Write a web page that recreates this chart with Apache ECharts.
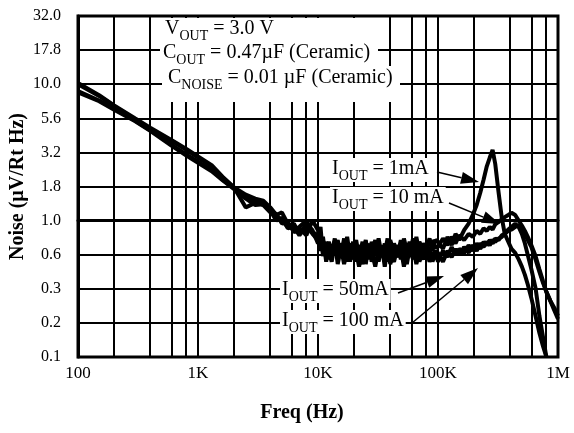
<!DOCTYPE html>
<html>
<head>
<meta charset="utf-8">
<script src="https://cdn.jsdelivr.net/npm/echarts@6/dist/echarts.min.js"></script>
<style>
  html, body { margin: 0; padding: 0; background: #fff; }
  #chart { width: 574px; height: 433px; }
</style>
</head>
<body>
<div id="chart"></div>
<script>
  // frequency points (Hz), shared by the four curves
  var freq = [100, 150, 200, 300, 400, 600, 800, 1000, 1300, 1600,
    2000, 2500, 3000, 3500, 4000, 4500, 5000, 5600, 6300, 7000,
    8000, 9000,
    10000, 10500, 11000, 11700, 12300, 13000, 13800, 14600, 15500, 16500,
    17500, 18500, 19600, 20800, 22000, 23500, 25000, 26500, 28000, 30000,
    32000, 34000, 36000, 38000, 40000, 43000, 46000, 49000, 52000, 55000,
    58000, 62000, 66000, 70000, 75000, 80000, 85000, 90000, 95000,
    100000, 110000, 120000, 130000, 140000, 150000, 165000, 180000, 195000, 210000,
    225000, 240000, 255000, 270000, 285000, 300000, 320000, 340000, 360000, 385000,
    410000, 440000, 470000, 500000, 530000, 560000, 600000, 650000, 700000, 750000,
    800000, 860000, 930000, 1000000];

  // noise (uV/rtHz) for each output current
  var iout1mA = [10.2, 8.3, 7.0, 5.6, 4.8, 3.9, 3.35, 2.95, 2.55, 2.1,
    1.75, 1.55, 1.45, 1.4, 1.25, 1.1, 1.15, 0.95, 0.85, 0.9,
    1.0, 0.82,
    0.78, 0.6, 0.72, 0.55, 0.7, 0.58, 0.74, 0.52, 0.68, 0.6,
    0.76, 0.54, 0.7, 0.5, 0.66, 0.58, 0.72, 0.52, 0.7, 0.56,
    0.74, 0.55, 0.68, 0.5, 0.72, 0.58, 0.66, 0.52, 0.74, 0.6,
    0.7, 0.55, 0.76, 0.58, 0.68, 0.62, 0.74, 0.6, 0.72,
    0.7, 0.62, 0.76, 0.66, 0.8, 0.72, 0.85, 0.95, 1.1, 1.3,
    1.6, 2.0, 2.5, 2.9, 3.3, 2.6, 1.6, 1.05, 0.8, 0.7,
    0.62, 0.58, 0.52, 0.46, 0.4, 0.34, 0.27, 0.2, 0.15, 0.12,
    0.1, null, null, null];
  var iout10mA = [10.0, 8.2, 6.9, 5.5, 4.7, 3.85, 3.3, 2.9, 2.5, 2.08,
    1.74, 1.25, 1.35, 1.35, 1.2, 1.05, 1.0, 0.9, 0.95, 0.8,
    0.95, 0.85,
    0.68, 0.82, 0.58, 0.7, 0.52, 0.66, 0.6, 0.72, 0.55, 0.74,
    0.5, 0.68, 0.58, 0.72, 0.54, 0.7, 0.48, 0.66, 0.56, 0.72,
    0.5, 0.64, 0.58, 0.74, 0.52, 0.68, 0.56, 0.72, 0.5, 0.66,
    0.58, 0.74, 0.54, 0.7, 0.6, 0.66, 0.56, 0.72, 0.64,
    0.64, 0.74, 0.66, 0.76, 0.68, 0.78, 0.72, 0.8, 0.76, 0.84,
    0.8, 0.88, 0.84, 0.9, 0.86, 0.94, 0.98, 1.02, 1.06, 1.1,
    1.14, 1.1, 1.0, 0.92, 0.84, 0.76, 0.66, 0.55, 0.44, 0.36,
    0.3, 0.26, 0.22, 0.19];
  var iout50mA = [8.9, 7.6, 6.6, 5.4, 4.6, 3.6, 3.05, 2.7, 2.35, 2.0,
    1.72, 1.5, 1.38, 1.3, 1.15, 1.12, 0.95, 0.98, 0.82, 0.88,
    0.78, 1.0,
    0.85, 0.62, 0.76, 0.5, 0.64, 0.56, 0.7, 0.48, 0.62, 0.55,
    0.68, 0.5, 0.64, 0.58, 0.46, 0.62, 0.56, 0.68, 0.5, 0.6,
    0.54, 0.66, 0.46, 0.62, 0.56, 0.5, 0.64, 0.55, 0.6, 0.48,
    0.62, 0.52, 0.66, 0.5, 0.6, 0.55, 0.64, 0.5, 0.58,
    0.5, 0.6, 0.54, 0.64, 0.56, 0.62, 0.58, 0.66, 0.6, 0.68,
    0.62, 0.7, 0.66, 0.72, 0.68, 0.74, 0.72, 0.78, 0.8, 0.86,
    0.9, 0.95, 0.9, 0.8, 0.68, 0.56, 0.44, 0.32, 0.2, 0.14,
    0.1, null, null, null];
  var iout100mA = [8.7, 7.5, 6.5, 5.35, 4.55, 3.55, 3.0, 2.65, 2.3, 1.98,
    1.7, 1.45, 1.3, 1.32, 1.18, 1.0, 1.05, 0.88, 0.9, 0.78,
    0.92, 0.8,
    0.72, 0.9, 0.55, 0.66, 0.6, 0.5, 0.68, 0.56, 0.64, 0.48,
    0.6, 0.66, 0.52, 0.62, 0.58, 0.48, 0.64, 0.55, 0.6, 0.46,
    0.62, 0.56, 0.52, 0.66, 0.48, 0.6, 0.54, 0.62, 0.46, 0.58,
    0.55, 0.64, 0.48, 0.58, 0.52, 0.62, 0.5, 0.56, 0.6,
    0.58, 0.5, 0.6, 0.54, 0.62, 0.56, 0.64, 0.58, 0.66, 0.6,
    0.68, 0.64, 0.7, 0.66, 0.72, 0.7, 0.74, 0.76, 0.8, 0.84,
    0.86, 0.9, 0.92, 0.88, 0.8, 0.72, 0.64, 0.52, 0.42, 0.35,
    0.3, 0.26, 0.23, 0.2];

  // tick labels
  var yTickLabels = ['0.1', '0.2', '0.3', '0.6', '1.0', '1.8', '3.2', '5.6', '10.0', '17.8', '32.0'];
  var xTickLabels = { 2: '100', 3: '1K', 4: '10K', 5: '100K', 6: '1M' };
  // secondary vertical grid lines (2, 4, 6, 8 of each decade)
  var xMinorGrid = [200, 400, 600, 800, 2000, 4000, 6000, 8000,
    20000, 40000, 60000, 80000, 200000, 400000, 600000, 800000];

  var serif = 'Liberation Serif';

  function toPoints(values) {
    var pts = [];
    for (var i = 0; i < freq.length; i++) {
      if (values[i] != null) pts.push([Math.log10(freq[i]), Math.log10(values[i])]);
    }
    return pts;
  }

  function curve(name, values) {
    return {
      name: name,
      type: 'line',
      z: 3,
      showSymbol: false,
      lineStyle: { color: '#000', width: 4 },
      data: toPoints(values)
    };
  }

  // line with a filled arrow head at (x2, y2)
  function arrow(x1, y1, x2, y2) {
    var dx = x2 - x1, dy = y2 - y1;
    var len = Math.sqrt(dx * dx + dy * dy);
    var ux = dx / len, uy = dy / len;
    var hl = 18, hw = 6;
    var bx = x2 - ux * hl, by = y2 - uy * hl;
    return [
      { type: 'line', z: 100, shape: { x1: x1, y1: y1, x2: bx, y2: by }, style: { stroke: '#000', lineWidth: 1.5 } },
      { type: 'polygon', z: 100, shape: { points: [[x2, y2], [bx - uy * hw, by + ux * hw], [bx + uy * hw, by - ux * hw]] }, style: { fill: '#000' } }
    ];
  }

  var rich = {
    n: { fontSize: 20, fontFamily: serif, color: '#000', lineHeight: 22, verticalAlign: 'top' },
    s: { fontSize: 14, fontFamily: serif, color: '#000', lineHeight: 14, padding: [10, 0, 0, 0], verticalAlign: 'top' }
  };

  function label(x, y, main, sub, rest, bg) {
    return {
      type: 'text', z: 101, x: x, y: y,
      style: {
        text: '{n|' + main + '}{s|' + sub + '}{n|' + rest + '}',
        rich: rich,
        backgroundColor: bg ? '#fff' : null,
        padding: bg ? [1, 2, 1, 2] : 0
      }
    };
  }

  var graphics = [
    { type: 'rect', z: 99, shape: { x: 160, y: 18, width: 228, height: 24 }, style: { fill: '#fff' } },
    { type: 'rect', z: 99, shape: { x: 160, y: 42, width: 218, height: 24 }, style: { fill: '#fff' } },
    { type: 'rect', z: 99, shape: { x: 162, y: 66, width: 238, height: 36 }, style: { fill: '#fff' } },
    label(165, 19, 'V', 'OUT', ' = 3.0 V', false),
    label(163, 43, 'C', 'OUT', ' = 0.47\u00b5F (Ceramic)', false),
    label(168, 68, 'C', 'NOISE', ' = 0.01 \u00b5F (Ceramic)', false),
    label(330, 158, 'I', 'OUT', ' = 1mA', true),
    label(330, 187, 'I', 'OUT', ' = 10 mA', true),
    label(280, 279, 'I', 'OUT', ' = 50mA', true),
    label(280, 310, 'I', 'OUT', ' = 100 mA', true)
  ]
    .concat(arrow(437, 172, 479, 182))
    .concat(arrow(449, 203, 500, 224))
    .concat(arrow(398, 293, 444, 276))
    .concat(arrow(412, 323, 478, 268));

  var series = [
    {
      type: 'line', z: 1, data: [],
      markLine: {
        silent: true, symbol: 'none', animation: false,
        label: { show: false },
        lineStyle: { color: '#000', width: 2, type: 'solid' },
        data: xMinorGrid.map(function (f) { return { xAxis: Math.log10(f) }; })
      }
    },
    curve('IOUT = 1mA', iout1mA),
    curve('IOUT = 10 mA', iout10mA),
    curve('IOUT = 50mA', iout50mA),
    curve('IOUT = 100 mA', iout100mA)
  ];

  var chart = echarts.init(document.getElementById('chart'));
  chart.setOption({
    animation: false,
    backgroundColor: '#fff',
    grid: {
      left: 78, right: 16, top: 16, bottom: 76,
      containLabel: false, outerBoundsMode: 'none',
      show: true, borderColor: '#000', borderWidth: 3
    },
    xAxis: {
      type: 'value', min: 2, max: 6, interval: 1,
      name: 'Freq (Hz)', nameLocation: 'middle', nameGap: 46, nameMoveOverlap: false,
      nameTextStyle: { fontFamily: serif, fontWeight: 'bold', fontSize: 20, color: '#000', padding: [0, 32, 0, 0] },
      axisLine: { show: true, lineStyle: { color: '#000', width: 3 } },
      axisTick: { show: true, length: 6, lineStyle: { color: '#000', width: 2 } },
      axisLabel: {
        fontFamily: serif, fontSize: 17, color: '#000', margin: 8,
        formatter: function (v) { return xTickLabels[Math.round(v)] || ''; }
      },
      splitLine: { show: true, lineStyle: { color: '#000', width: 2 } }
    },
    yAxis: {
      type: 'value', min: -1, max: 1.5, interval: 0.25,
      name: 'Noise (\u00b5V/Rt Hz)', nameLocation: 'middle', nameGap: 50, nameMoveOverlap: false,
      nameTextStyle: { fontFamily: serif, fontWeight: 'bold', fontSize: 20, color: '#000' },
      axisLine: { show: true, lineStyle: { color: '#000', width: 3 } },
      axisTick: { show: false },
      axisLabel: {
        fontFamily: serif, fontSize: 16, color: '#000', margin: 17,
        formatter: function (v) { return yTickLabels[Math.round((v + 1) / 0.25)] || ''; }
      },
      splitLine: { show: true, lineStyle: { color: '#000', width: 2 } }
    },
    graphic: graphics,
    series: series
  });
</script>
</body>
</html>
